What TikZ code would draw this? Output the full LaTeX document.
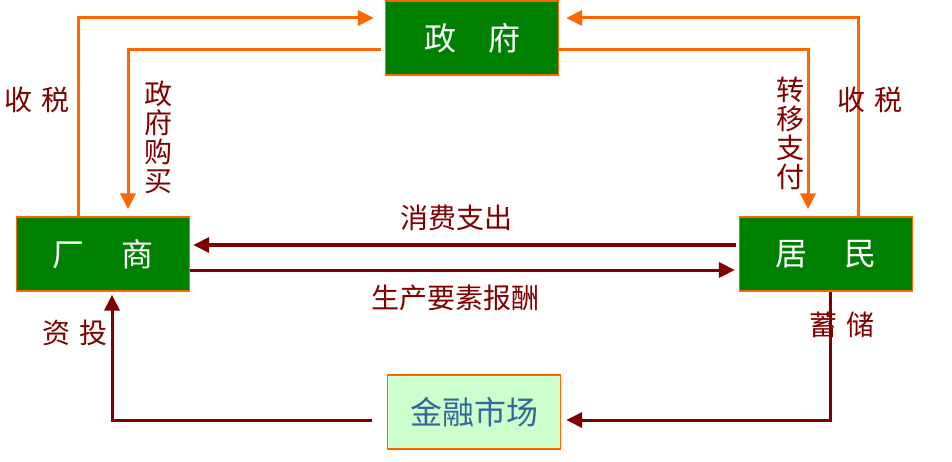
\documentclass[tikz,border=0pt]{standalone}
\usepackage{fontspec}
\setmainfont{Noto Sans CJK SC}
\usetikzlibrary{arrows.meta}
\definecolor{boxgreen}{HTML}{008000}
\definecolor{paleg}{HTML}{CCFFCC}
\definecolor{taxorange}{HTML}{FF6600}
\definecolor{flowred}{HTML}{800000}
\definecolor{mktblue}{HTML}{336699}
\begin{document}
\begin{tikzpicture}[x=1pt,y=-1pt,
    box/.style={draw=taxorange, line width=1.2pt, fill=boxgreen, text=white,
      minimum width=173pt, minimum height=74pt, inner sep=0pt,
      font=\fontsize{32}{34}\selectfont},
    tax/.style={taxorange, line width=3pt, -{Triangle[length=16pt,width=15pt]}},
    flow/.style={flowred, line width=3pt, -{Triangle[length=16pt,width=15pt]}},
    lbl/.style={text=flowred, inner sep=0pt, align=center,
      font=\fontsize{28}{29}\selectfont}]
  \useasboundingbox (0,0) rectangle (952,462);
  % sectors
  \node[box] (gov) at (472,38) {政\hspace{1em}府};
  \node[box] (firm) at (103,254) {厂\hspace{1.15em}商};
  \node[box] (house) at (826,254) {居\hspace{1.15em}民};
  \node[box, fill=paleg, text=mktblue] (market) at (474,412) {金融市场};
  % government flows
  \draw[tax, shorten >=11pt] ([xshift=-25pt]firm.north) |- ([yshift=20pt]gov.west);
  \draw[tax, shorten <=4pt, shorten >=7pt] ([yshift=-12pt]gov.west) -| ([xshift=25pt]firm.north);
  \draw[tax, shorten >=7pt] ([xshift=32pt]house.north) |- ([yshift=20pt]gov.east);
  \draw[tax, shorten >=7pt] ([yshift=-12pt]gov.east) -| ([xshift=-18pt]house.north);
  % market flows
  \draw[flow, shorten <=3pt, shorten >=3pt] ([yshift=9pt]house.west) -- ([yshift=9pt]firm.east);
  \draw[flow, shorten >=4pt] ([yshift=-16pt]firm.east) -- ([yshift=-16pt]house.west);
  \draw[flow, shorten >=5pt] ([xshift=4pt]house.south) |- ([yshift=-8pt]market.east);
  \draw[flow, shorten <=15pt, shorten >=3pt] ([yshift=-8pt]market.west) -| ([xshift=9pt]firm.south);
  % labels
  \node[lbl] (taxl) at (37,100) {收\hspace{0.3em}税};
  \node[lbl] (buy) at (158,137) {政\\府\\购\\买};
  \node[lbl] (trans) at (790,133) {转\\移\\支\\付};
  \node[lbl] (taxr) at (870,100) {收\hspace{0.3em}税};
  \node[lbl] (spend) at (456,218) {消费支出};
  \node[lbl] (wage) at (455,298) {生产要素报酬};
  \node[lbl] (save) at (842,325) {蓄\hspace{0.3em}储};
  \node[lbl] (invest) at (75,333) {资\hspace{0.3em}投};
\end{tikzpicture}
\end{document}
